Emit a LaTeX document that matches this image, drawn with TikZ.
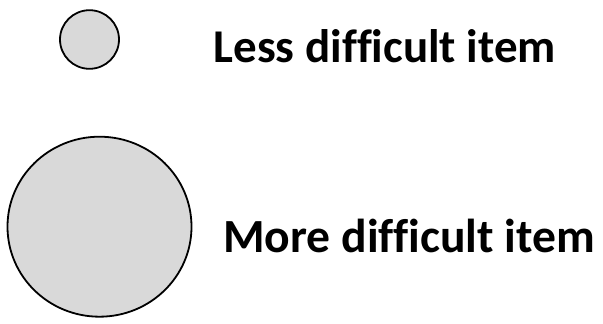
\documentclass[tikz,border=0pt]{standalone}
\usepackage{fontspec}
\setmainfont[Ligatures={NoCommon}]{Carlito}
\definecolor{itemfill}{HTML}{D9D9D9}
\begin{document}
\begin{tikzpicture}[x=1pt,y=-1pt,
  itemcircle/.style={draw=black, line width=1.8pt, fill=itemfill},
  label/.style={font=\fontsize{47}{56}\selectfont\bfseries, anchor=base west, inner sep=0pt}]
\useasboundingbox (0,0) rectangle (603,324);
\draw[itemcircle] (89.5,39.5) ellipse [x radius=29.5, y radius=29.3];
\draw[itemcircle] (99.5,226.7) ellipse [x radius=92, y radius=90];
\node[label] (less) at (213.5,62) {Less difficult item};
\node[label, font=\fontsize{47.6}{56}\selectfont\bfseries] (more) at (223,252) {More difficult item};
\end{tikzpicture}
\end{document}
